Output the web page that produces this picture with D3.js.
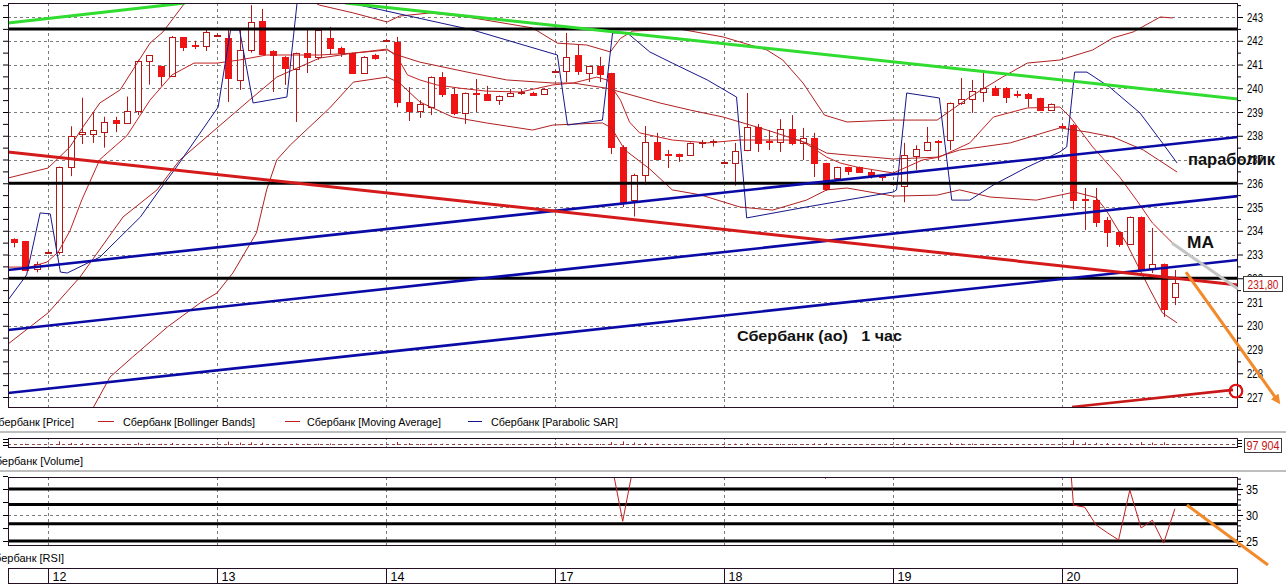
<!DOCTYPE html>
<html><head><meta charset="utf-8">
<script src="https://cdn.jsdelivr.net/npm/d3@7/dist/d3.min.js"></script>
<style>
html,body{margin:0;padding:0;background:#fff;}
svg{display:block;font-family:"Liberation Sans",Arial,sans-serif;}
</style></head><body>
<svg id="chart" width="1286" height="584"></svg>
<script>
// ================= DATA =================
const dayLabels = ["12","13","14","17","18","19","20"];
const dayFirstCandle = [3,18,33,48,63,78,93];
const priceTicks = [227,228,229,230,231,232,233,234,235,236,237,238,239,240,241,242,243];
const rsiTicks = [25,30,35];

const openP = [233.65,233.55,232.4,233.1,233.1,236.7,238.05,238.1,238.2,238.66,
238.55,239.05,241.15,240.94,240.52,242.16,241.8,241.78,242.24,242.12,
240.35,241.6,242.83,241.57,241.32,240.8,241.48,241.32,242.12,241.7,
241.48,240.64,241.4,242.03,241.95,239.42,239.04,239.2,240.47,239.76,
238.96,239.78,239.76,239.5,239.67,239.82,239.8,239.76,240.74,240.73,
241.4,240.64,240.94,240.64,237.53,235.3,236.35,237.74,237.25,237.23,
237.19,237.68,237.72,236.9,236.85,237.4,238.37,237.76,237.74,238.28,
237.7,237.9,236.85,236.22,236.68,236.68,236.48,236.3,236.0,235.88,
237.15,237.4,237.76,237.82,239.38,239.55,239.84,240.01,240.01,239.74,
239.76,239.59,239.08,238.42,238.45,235.32,235.3,234.45,233.95,233.44,
234.58,232.43,232.6,231.21];
const highP = [233.68,233.57,232.7,233.15,236.7,238.4,239.6,239.0,238.8,238.8,
239.65,241.2,241.4,240.95,242.2,242.16,242.0,242.5,242.3,242.54,
242.45,243.5,243.34,241.6,241.35,241.5,242.54,242.5,242.58,241.75,
241.5,241.35,241.45,242.08,242.16,240.05,239.5,240.5,240.68,240.05,
239.82,240.39,240.1,239.7,239.97,239.97,239.85,240.0,240.78,242.33,
241.82,240.95,241.32,240.65,237.6,236.4,238.41,238.12,237.4,237.25,
237.72,237.82,237.85,236.95,237.7,239.8,238.5,238.24,238.7,238.87,
238.33,238.12,236.86,236.7,236.7,236.7,236.6,236.38,236.05,237.7,
237.6,238.37,237.82,239.4,240.43,240.35,240.64,240.1,240.05,239.9,
239.8,239.6,239.36,238.5,238.5,235.8,235.8,234.58,233.97,234.6,
234.6,234.12,232.62,232.35];
const lowP = [233.3,232.3,232.25,233.05,233.0,236.3,237.65,237.7,237.5,238.15,
238.55,238.87,240.15,240.1,240.5,241.57,241.65,241.57,242.2,239.42,
239.93,241.5,241.4,239.84,240.14,238.58,240.64,241.2,241.4,241.32,
240.6,240.6,241.2,241.98,239.2,238.62,238.75,238.87,239.63,238.87,
238.5,239.0,239.5,239.3,239.63,239.72,239.68,239.74,240.7,240.26,
240.56,240.26,240.26,237.23,235.0,234.6,235.93,237.0,236.64,236.9,
237.15,237.48,237.55,236.85,235.9,237.35,237.32,237.4,237.32,237.6,
236.98,236.26,235.68,236.1,236.35,236.45,236.2,236.1,235.95,235.2,
236.56,237.35,236.98,237.4,239.3,238.96,239.42,239.68,239.38,239.6,
239.2,239.05,239.05,238.35,234.9,234.03,234.16,233.32,233.32,233.4,
232.3,232.22,230.37,230.87];
const closeP = [233.53,232.35,232.6,233.1,236.68,238.0,238.15,238.25,238.6,238.54,
239.05,241.15,241.4,240.52,242.16,241.74,241.78,242.37,242.24,240.43,
241.6,242.79,241.44,241.4,240.85,241.48,241.32,242.45,241.7,241.48,
240.64,241.32,241.27,242.03,239.42,239.04,239.34,240.47,239.76,238.96,
239.8,239.74,239.5,239.67,239.8,239.86,239.72,239.97,240.74,241.32,
240.73,240.94,240.6,237.53,235.2,236.35,237.74,237.02,237.2,237.15,
237.7,237.72,237.76,236.9,237.36,238.37,237.7,237.72,238.28,237.7,
237.9,236.85,235.76,236.68,236.52,236.48,236.3,236.28,236.0,237.19,
237.44,237.74,237.7,239.38,239.55,239.88,240.01,239.72,239.63,239.7,
239.59,239.08,239.34,238.4,235.3,235.28,234.37,233.95,233.44,234.58,
232.35,232.6,230.7,231.8];
// volume, thousands of lots
const volume = [120,180,90,60,520,310,260,150,140,90,
160,330,210,180,300,150,90,140,60,480,
350,380,330,170,150,220,180,200,210,120,
160,110,80,60,430,260,150,210,190,170,
140,120,110,90,70,60,80,90,40,260,
240,150,160,420,520,360,300,190,120,110,
130,90,80,50,190,260,220,130,160,170,
120,250,300,140,110,100,120,90,60,310,
160,180,120,330,230,200,160,140,150,110,
130,160,120,110,680,380,300,280,190,260,
420,350,390,97.904];

// indicator lines: [candle index, price]
const bbUpper = [[-0.55,236.22],[3,236.64],[4.95,237.53],[6.1,238.37],[7.6,239.38],[9.4,239.93],[12.05,241.9],[13.2,242.37],[15.2,243.63],[19.2,244.1],[25.4,243.9],[27.1,243.5],[30.1,243.17],[33.1,242.79],[34.2,243.04],[36.9,243.17],[40.2,243.0],[46.0,242.54],[48.2,241.9],[50.8,241.82],[52.9,241.53],[53.8,242.1],[54.9,242.41],[59.1,242.49],[62.9,242.16],[66.8,241.61],[68.2,241.19],[70.0,240.22],[71.9,238.87],[73.9,238.58],[78.0,238.66],[81.9,238.66],[84.8,239.63],[87.7,240.47],[89.9,241.06],[92.8,241.19],[95.7,241.61],[97.5,242.12],[99.3,242.37],[101.7,243.0],[102.8,242.96]];
const bbMiddle = [[-0.55,229.23],[3,230.54],[5.84,232.05],[9.66,234.58],[12.67,235.72],[14.7,236.98],[18.0,238.33],[20.9,239.51],[23.3,240.47],[27.1,241.27],[30.1,241.48],[33.1,241.61],[34.0,241.4],[36.0,241.1],[40.2,240.68],[43.7,240.35],[47.8,240.22],[49.6,240.22],[52.6,240.0],[56.4,239.5],[57.3,239.38],[60.0,239.08],[62.9,238.79],[66.8,238.24],[70.3,237.7],[72.1,237.27],[73.9,237.19],[76.2,237.1],[78.0,237.02],[81.9,237.1],[83.9,237.4],[88.4,237.7],[91.3,238.12],[92.8,238.33],[95.2,238.16],[97.5,237.95],[100.2,237.4],[103.2,236.47]];
const bbLower = [[6.0,225.9],[7.0,226.54],[8.5,227.84],[10.5,228.68],[13.6,229.95],[16.5,230.96],[18.0,231.38],[19.4,232.22],[21.5,233.91],[22.4,235.72],[23.3,236.98],[24.5,237.61],[28.0,239.17],[30.1,240.26],[33.1,240.47],[34.2,240.22],[36.0,239.42],[38.9,238.79],[41.9,238.54],[46.0,238.24],[47.8,238.45],[52.2,238.54],[53.0,238.33],[54.2,237.4],[56.4,236.6],[58.4,235.72],[60.9,235.51],[64.4,235.0],[67.3,234.87],[70.3,235.29],[72.1,235.72],[73.9,235.8],[78.0,235.46],[81.9,235.5],[83.9,235.72],[86.6,235.42],[90.7,235.29],[92.9,235.51],[94.1,235.63],[96.0,235.4],[96.9,234.87],[97.8,234.16],[98.7,233.48],[99.9,232.35],[100.8,231.51],[101.9,230.54],[103.2,230.12]];
const movingAvg = [[-0.55,232.47],[1.4,232.47],[2.9,232.68],[3.9,233.1],[4.95,234.0],[6.0,235.3],[7.6,237.0],[10.0,238.0],[12.05,239.5],[14.0,240.56],[15.96,241.06],[18.0,241.06],[20.0,241.19],[22.4,241.4],[25.4,241.4],[27.1,241.4],[30.1,241.48],[33.1,241.65],[34.0,241.32],[34.9,240.56],[36.0,240.35],[37.5,240.14],[39.6,240.0],[41.9,239.88],[44.9,239.84],[47.8,240.14],[49.6,240.22],[51.7,240.47],[52.6,240.35],[53.8,239.5],[54.6,238.58],[55.5,238.12],[58.4,237.82],[61.5,237.7],[64.4,237.82],[69.7,237.82],[70.9,237.48],[72.1,237.1],[73.3,236.85],[74.8,236.68],[78.0,236.43],[80.6,236.98],[82.1,237.1],[84.8,237.7],[86.9,238.79],[89.9,239.17],[92.8,239.21],[93.7,238.79],[95.7,237.53],[98.1,236.26],[99.6,235.29],[101.0,234.33],[102.8,233.48]];
const parabolicSar = [[-0.55,231.08],[1.1,232.14],[2.3,234.75],[3.2,234.71],[4.1,232.26],[4.7,232.22],[7.6,232.89],[11.2,234.58],[12.9,235.72],[14.4,236.68],[18.1,239.21],[19.2,242.45],[20.0,242.45],[21.2,239.38],[24.2,239.63],[25.1,243.59],[27.5,244.3],[29.8,243.59],[40.7,242.45],[48.2,241.4],[49.1,238.45],[52.2,238.66],[53.1,242.33],[54.4,242.33],[56.4,241.53],[58.4,241.06],[61.5,240.35],[64.1,239.63],[65.0,234.54],[70.3,235.0],[78.0,235.63],[78.3,235.72],[79.2,239.8],[82.1,239.59],[83.2,235.29],[84.8,235.29],[86.9,235.93],[89.9,236.68],[92.8,237.32],[93.4,237.53],[94.1,240.68],[95.2,240.68],[97.2,240.05],[99.9,238.96],[101.7,237.82],[103.2,236.85]];
// RSI: [candle index, value]
const rsiPartA = [[52,45],[53,40],[54,28.8],[55,40],[56,46]];
const rsiPartB = [[71,45],[72,37.0],[73,45]];
const rsiPartC = [[92,62],[93,60],[94,31.9],[95,31.5],[96,28.1],[97,26.6],[98,25.2],[99,34.8],[100,27.5],[101,29.0],[102,24.6],[103,31.2]];

// hand-drawn annotations (index, price)
const levelLines = [242.5, 236, 232];
const rsiLevels = [35, 32, 28.3, 25];
const greenTrends = [[[-0.55,242.75],[15.16,243.59]], [[29.36,243.59],[108.6,239.55]]];
const redTrend = [[-0.55,237.32],[108.6,231.72]];
const blueChannels = [[[-0.55,232.35],[108.6,237.95]], [[-0.55,229.82],[108.6,235.46]], [[-0.55,227.17],[108.6,232.77]]];
const bottomRedLine = [[93.87,226.58],[108.16,227.3]];
const circleMark = [108.42,227.25];
const grayMA = [[102.74,233.48],[108.6,231.55]];
const orangeArrowPrice = [[103.98,232.26],[112.15,226.83]];
const orangeArrowRsi = [[104.07,31.92],[111.26,20.38]];
const lastPrice = "231,80";
const lastVolume = "97 904";

// ================= DRAW =================
const svg = d3.select("#chart");
const L=8, R=1238, T=3, B=407;
const x = d3.scaleLinear().domain([-0.55,108.6]).range([L,R]);
const y = d3.scaleLinear().domain([227,243]).range([397,17]);
const yR = d3.scaleLinear().domain([25,35]).range([541,489]);
const yV = d3.scaleLinear().domain([0,1000]).range([445,438]);
const px = v => Math.round(v)+0.5;

const defs = svg.append("defs");
defs.append("clipPath").attr("id","cm").append("rect").attr("x",L).attr("y",T).attr("width",R-L).attr("height",B-T);
defs.append("clipPath").attr("id","cr").append("rect").attr("x",L).attr("y",477).attr("width",R-L).attr("height",68);
defs.append("marker").attr("id","ah").attr("viewBox","0 0 10 10").attr("refX",6).attr("refY",5)
  .attr("markerWidth",3.2).attr("markerHeight",3.2).attr("orient","auto")
  .append("path").attr("d","M0,0 L10,5 L0,10 z").attr("fill","#f28a2a");

const grid = "#7c7c7c";
// ---- main grid
const gm = svg.append("g");
gm.selectAll("line.h").data(priceTicks).join("line")
  .attr("x1",L).attr("x2",R).attr("y1",d=>px(y(d))).attr("y2",d=>px(y(d)))
  .attr("stroke",grid).attr("stroke-dasharray","3,3");
gm.selectAll("line.v").data(dayFirstCandle).join("line")
  .attr("x1",d=>px(x(d))).attr("x2",d=>px(x(d))).attr("y1",T).attr("y2",B)
  .attr("stroke",grid).attr("stroke-dasharray","3,3");

// ---- candles
const candles = d3.range(openP.length).map(i=>({i,o:openP[i],h:highP[i],l:lowP[i],c:closeP[i]}));
const cg = svg.append("g").attr("clip-path","url(#cm)");
cg.selectAll("line.w").data(candles).join("line")
  .attr("x1",d=>px(x(d.i))).attr("x2",d=>px(x(d.i)))
  .attr("y1",d=>y(d.h)).attr("y2",d=>y(d.l)).attr("stroke","#b51616");
cg.selectAll("rect.b").data(candles).join("rect")
  .attr("x",d=>Math.round(x(d.i))-2.5).attr("width",6)
  .attr("y",d=>Math.round(y(Math.max(d.o,d.c)))+0.5)
  .attr("height",d=>Math.max(1,Math.round(Math.abs(y(d.o)-y(d.c)))))
  .attr("fill",d=>d.c>=d.o?"#ffffff":"#ee1414")
  .attr("stroke",d=>d.c>=d.o?"#b51616":"#ee1414");

// ---- indicators
const lg = d3.line().x(d=>x(d[0])).y(d=>y(d[1]));
const ig = svg.append("g").attr("clip-path","url(#cm)").attr("fill","none");
[bbUpper,bbMiddle,bbLower].forEach(s=>ig.append("path").attr("d",lg(s)).attr("stroke","#b02020").attr("stroke-width",1));
ig.append("path").attr("d",lg(movingAvg)).attr("stroke","#c42222").attr("stroke-width",1);
ig.append("path").attr("d",lg(parabolicSar)).attr("stroke","#16168a").attr("stroke-width",1);

// ---- annotations on price
const ag = svg.append("g").attr("clip-path","url(#cm)").attr("fill","none");
levelLines.forEach(v=>ag.append("line").attr("x1",L).attr("x2",R).attr("y1",y(v)).attr("y2",y(v)).attr("stroke","#000").attr("stroke-width",3));
blueChannels.forEach(s=>ag.append("path").attr("d",lg(s)).attr("stroke","#0a0aa6").attr("stroke-width",2.6));
ag.append("path").attr("d",lg(redTrend)).attr("stroke","#d41a1a").attr("stroke-width",3);
greenTrends.forEach(s=>ag.append("path").attr("d",lg(s)).attr("stroke","#2fdc2f").attr("stroke-width",3));
ag.append("path").attr("d",lg(bottomRedLine)).attr("stroke","#c81818").attr("stroke-width",2.6);

// ---- main border
svg.append("rect").attr("x",L+0.5).attr("y",T+0.5).attr("width",R-L-1).attr("height",B-T).attr("fill","none").attr("stroke","#241024");

// ---- price axes
function styleAxis(g){ g.select(".domain").remove(); g.selectAll("line").attr("stroke","#000"); g.attr("font-family","Liberation Sans, Arial, sans-serif"); }
const gR = svg.append("g").attr("transform",`translate(${R},0)`)
  .call(d3.axisRight(y).tickValues(priceTicks).tickSize(5).tickPadding(4).tickFormat(d3.format("d")));
styleAxis(gR);
gR.selectAll("text").attr("font-size",12.5).attr("fill","#000").attr("textLength",16).attr("lengthAdjust","spacingAndGlyphs");
const halfTicks = d3.range(227.5,243.6,1);
svg.append("g").attr("transform",`translate(${R},0)`)
  .call(d3.axisRight(y).tickValues(halfTicks).tickSize(3).tickFormat("")).call(styleAxis);
svg.append("g").attr("transform",`translate(${L},0)`)
  .call(d3.axisLeft(y).tickValues(d3.range(226.5,243.6,0.5).filter(v=>y(v)>T&&y(v)<B)).tickSize(5).tickFormat("")).call(styleAxis);

// ---- last price box
svg.append("rect").attr("x",1243.5).attr("y",276.5).attr("width",39).attr("height",15).attr("fill","#fff").attr("stroke","#3a3a3a");
svg.append("text").attr("x",1263).attr("y",288.5).attr("text-anchor","middle").attr("font-size",13)
  .attr("fill","#c41414").attr("textLength",31).attr("lengthAdjust","spacingAndGlyphs").text(lastPrice);

// ---- other annotations (over axis)
svg.append("path").attr("d",lg(grayMA)).attr("stroke","#c4c4c4").attr("stroke-width",3).attr("fill","none");
svg.append("path").attr("d",lg(orangeArrowPrice)).attr("stroke","#f28a2a").attr("stroke-width",3).attr("fill","none").attr("marker-end","url(#ah)");
svg.append("circle").attr("cx",x(circleMark[0])).attr("cy",y(circleMark[1])).attr("r",6.3).attr("fill","none").attr("stroke","#e01010").attr("stroke-width",2.2);

const bold = (t,xx,yy,fs,len)=>svg.append("text").attr("x",xx).attr("y",yy).attr("font-size",fs).attr("font-weight","bold")
  .attr("fill","#111").attr("textLength",len).attr("lengthAdjust","spacingAndGlyphs").style("white-space","pre").text(t);
bold("параболик",1188,165,16.5,87);
bold("MA",1187,248,17,27);
bold("Сбербанк (ао)   1 час",737,341,15.5,165);

// ---- legend
const legend = svg.append("g").attr("font-size",11).attr("fill","#000");
legend.append("text").attr("x",74).attr("y",425.5).attr("text-anchor","end").text("Сбербанк [Price]");
const legItems = [
  {label:"Сбербанк [Bollinger Bands]", c:"#c02020", d0:98, d1:114, t:123, w:132},
  {label:"Сбербанк [Moving Average]", c:"#c02020", d0:285, d1:300, t:307, w:134},
  {label:"Сбербанк [Parabolic SAR]", c:"#16168a", d0:468, d1:482, t:491, w:127}
];
legItems.forEach(it=>{
  legend.append("line").attr("x1",it.d0).attr("x2",it.d1).attr("y1",421.5).attr("y2",421.5).attr("stroke",it.c);
  legend.append("text").attr("x",it.t).attr("y",425.5).attr("textLength",it.w).attr("lengthAdjust","spacingAndGlyphs").text(it.label);
});
[432,471].forEach(yy=>svg.append("line").attr("x1",0).attr("x2",1286).attr("y1",yy).attr("y2",yy).attr("stroke","#a8a8a8").attr("stroke-width",1.5));

// ---- volume panel
const vg = svg.append("g");
vg.append("line").attr("x1",L).attr("x2",R).attr("y1",444.5).attr("y2",444.5).attr("stroke","#8a5050").attr("stroke-dasharray","3,3");
dayFirstCandle.forEach(i=>vg.append("line").attr("x1",px(x(i))).attr("x2",px(x(i))).attr("y1",438).attr("y2",447).attr("stroke",grid).attr("stroke-dasharray","2,2"));
vg.selectAll("line.vb").data(volume.map((v,i)=>({i,v}))).join("line")
  .attr("x1",d=>px(x(d.i))).attr("x2",d=>px(x(d.i))).attr("y1",yV(0)).attr("y2",d=>yV(d.v)).attr("stroke","#b02020");
vg.append("rect").attr("x",L+0.5).attr("y",438.5).attr("width",R-L-1).attr("height",9).attr("fill","none").attr("stroke","#241024");
[439.5,442.5,445.5].forEach(yy=>vg.append("line").attr("x1",3).attr("x2",L).attr("y1",yy).attr("y2",yy).attr("stroke","#000"));
[440,443,446].forEach(yy=>vg.append("line").attr("x1",R).attr("x2",R+4).attr("y1",yy+0.5).attr("y2",yy+0.5).attr("stroke","#000"));
svg.append("rect").attr("x",1244.5).attr("y",438.5).attr("width",37).attr("height",14).attr("fill","#fff").attr("stroke","#3a3a3a");
svg.append("text").attr("x",1263).attr("y",450).attr("text-anchor","middle").attr("font-size",13)
  .attr("fill","#c41414").attr("textLength",33).attr("lengthAdjust","spacingAndGlyphs").text(lastVolume);
svg.append("text").attr("x",83).attr("y",464.5).attr("text-anchor","end").attr("font-size",11).text("Сбербанк [Volume]");

// ---- RSI panel
const rg = svg.append("g");
rg.append("line").attr("x1",L).attr("x2",R).attr("y1",px(yR(30))).attr("y2",px(yR(30))).attr("stroke",grid).attr("stroke-dasharray","3,3");
dayFirstCandle.forEach(i=>rg.append("line").attr("x1",px(x(i))).attr("x2",px(x(i))).attr("y1",477).attr("y2",545).attr("stroke",grid).attr("stroke-dasharray","3,3"));
rsiLevels.forEach(v=>rg.append("line").attr("x1",L).attr("x2",R).attr("y1",yR(v)).attr("y2",yR(v)).attr("stroke","#000").attr("stroke-width",3));
const lr = d3.line().x(d=>x(d[0])).y(d=>yR(d[1]));
const rc = rg.append("g").attr("clip-path","url(#cr)").attr("fill","none");
[rsiPartA,rsiPartB,rsiPartC].forEach(s=>rc.append("path").attr("d",lr(s)).attr("stroke","#c02020").attr("stroke-width",1));
rg.append("rect").attr("x",L+0.5).attr("y",477.5).attr("width",R-L-1).attr("height",68).attr("fill","none").attr("stroke","#241024");
const gRR = svg.append("g").attr("transform",`translate(${R},0)`)
  .call(d3.axisRight(yR).tickValues(rsiTicks).tickSize(5).tickPadding(3).tickFormat(d3.format("d")));
styleAxis(gRR);
gRR.selectAll("text").attr("font-size",12.5).attr("fill","#000").attr("textLength",12).attr("lengthAdjust","spacingAndGlyphs");
svg.append("g").attr("transform",`translate(${R},0)`)
  .call(d3.axisRight(yR).tickValues(d3.range(24,38).filter(v=>!rsiTicks.includes(v))).tickSize(3).tickFormat("")).call(styleAxis);
svg.append("g").attr("transform",`translate(${L},0)`)
  .call(d3.axisLeft(yR).tickValues(d3.range(25,38,2.5)).tickSize(5).tickFormat("")).call(styleAxis);
svg.append("path").attr("d",lr(orangeArrowRsi)).attr("stroke","#f28a2a").attr("stroke-width",3).attr("fill","none");
svg.append("text").attr("x",64).attr("y",562).attr("text-anchor","end").attr("font-size",11).text("Сбербанк [RSI]");

// ---- time axis strip
const tg = svg.append("g");
tg.append("rect").attr("x",L+0.5).attr("y",568.5).attr("width",R-L-1).attr("height",15).attr("fill","#fff").attr("stroke","#241024");
tg.selectAll("line.d").data(dayFirstCandle).join("line")
  .attr("x1",d=>px(x(d))).attr("x2",d=>px(x(d))).attr("y1",568).attr("y2",584).attr("stroke","#241024");
tg.selectAll("text").data(dayFirstCandle).join("text")
  .attr("x",d=>px(x(d))+4).attr("y",580.5).attr("font-size",12.5).text((d,k)=>dayLabels[k]);
</script></body></html>
